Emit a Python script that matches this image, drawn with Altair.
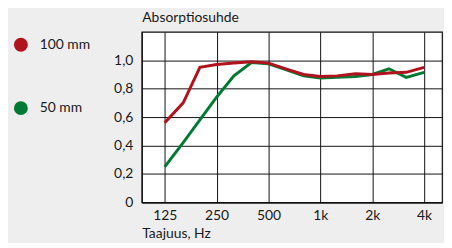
import altair as alt
import pandas as pd

freqs = [125, 160, 200, 250, 315, 400, 500, 630, 800, 1000, 1250, 1600, 2000, 2500, 3150, 4000]
abs_100 = [0.56, 0.70, 0.95, 0.97, 0.98, 0.99, 0.98, 0.94, 0.90, 0.885, 0.89, 0.905, 0.90, 0.91, 0.915, 0.95]
abs_50 = [0.25, 0.42, 0.58, 0.74, 0.89, 0.985, 0.975, 0.935, 0.89, 0.875, 0.88, 0.885, 0.90, 0.94, 0.88, 0.915]
series = ["100 mm", "50 mm"]
colors = ["#b0121e", "#037a34"]
x_ticks = [125, 250, 500, 1000, 2000, 4000]
y_ticks = [0, 0.2, 0.4, 0.6, 0.8, 1.0]

df = pd.concat([
    pd.DataFrame({"f": freqs, "a": abs_100, "s": series[0]}),
    pd.DataFrame({"f": freqs, "a": abs_50, "s": series[1]}),
])

FONT = "Lato"
TXT = "#1a1a1a"

x = alt.X("f:Q", scale=alt.Scale(type="log", domain=[92, 5080], nice=False),
          axis=alt.Axis(values=x_ticks, title="Taajuus, Hz", ticks=False,
                        labelExpr="datum.value >= 1000 ? (datum.value/1000) + 'k' : datum.value",
                        labelFontSize=14, labelPadding=6, labelColor=TXT, labelFont=FONT,
                        titleFont=FONT, titleFontSize=14, titleFontWeight="normal", titleColor=TXT,
                        titleAngle=0, titleAlign="left", titleAnchor="start", titleX=0, titleY=36,
                        titleBaseline="alphabetic",
                        grid=True, gridColor="#111", gridOpacity=1, gridWidth=1,
                        domainColor="#111", domainWidth=1.2))
y = alt.Y("a:Q", scale=alt.Scale(domain=[0, 1.2], nice=False),
          axis=alt.Axis(values=y_ticks, title="Absorptiosuhde", ticks=False,
                        labelExpr="datum.value == 0 ? '0' : replace(format(datum.value, '.1f'), '.', ',')",
                        labelFontSize=14, labelPadding=9, labelColor=TXT, labelFont=FONT,
                        titleFont=FONT, titleFontSize=14, titleFontWeight="normal", titleColor=TXT,
                        titleAngle=0, titleAlign="left", titleAnchor="end", titleX=0, titleY=-10,
                        titleBaseline="alphabetic",
                        grid=True, gridColor="#111", gridOpacity=1, gridWidth=1,
                        domainColor="#111", domainWidth=1.2))
color = alt.Color("s:N", scale=alt.Scale(domain=series, range=colors),
                  legend=alt.Legend(title=None, orient="none", legendX=-129, legendY=6,
                                    symbolType="circle", symbolSize=49, symbolStrokeWidth=7,
                                    labelFont=FONT, labelFontSize=14, labelColor=TXT,
                                    labelOffset=12, rowPadding=28, padding=0))

base = alt.Chart(df).mark_line(strokeWidth=3, strokeJoin="miter").encode(x=x, y=y, color=color)
green = base.transform_filter(alt.datum.s == series[1])
red = base.transform_filter(alt.datum.s == series[0])

chart = alt.layer(green, red).properties(
    width=303, height=172,
    autosize=alt.AutoSizeParams(type="none"),
    padding={"left": 135, "top": 23, "right": 2, "bottom": 40},
    background="#eeeeee",
).configure_view(stroke="#111", strokeWidth=1.2, fill="white")

chart.save("out.html", embed_options={"renderer": "svg", "actions": False})
